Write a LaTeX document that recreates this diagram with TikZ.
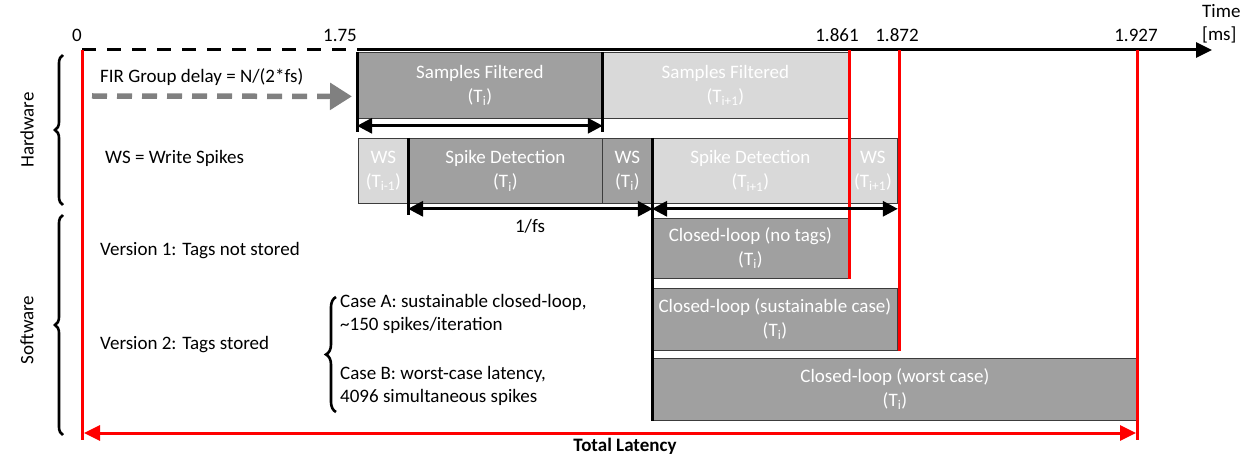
\documentclass[tikz,border=0pt]{standalone}
\usepackage{fontspec}
\setmainfont{Carlito}
\usetikzlibrary{arrows.meta,positioning,calc,decorations.pathreplacing}

\definecolor{darkfill}{RGB}{160,160,160}
\definecolor{lightfill}{RGB}{217,217,217}
\definecolor{boxedge}{RGB}{60,60,60}
\definecolor{delaygray}{RGB}{128,128,128}

\tikzset{
  stage/.style={draw=boxedge, line width=0.8pt, text=white, align=center, inner sep=0pt, anchor=north west, font=\fontsize{19}{24}\selectfont},
  darkstage/.style={stage, fill=darkfill},
  lightstage/.style={stage, fill=lightfill},
  note/.style={font=\fontsize{19}{23}\selectfont, align=left, inner sep=0pt},
  edgemark/.style={line width=3pt},
  span/.style={line width=3pt, {Triangle[length=15pt,width=15pt]}-{Triangle[length=15pt,width=15pt]}},
  redmark/.style={draw=red, line width=3pt},
  bracket/.style={decorate, decoration={brace, amplitude=8pt}, line width=2.6pt},
}

\begin{document}
\begin{tikzpicture}[x=1pt, y=-1pt]
    \useasboundingbox (0,0) rectangle (1244,457);

    % time axis
    \draw[line width=3pt, dash pattern=on 14pt off 11pt] (82,50) -- (357,50);
    \draw[line width=3pt, -{Triangle[length=16pt,width=15pt]}] (357,50) -- (1212,50);
    \node[note] (t0) at (77,35) {0};
    \node[note] (t1) at (340,35) {1.75};
    \node[note] (t2) at (837,35) {1.861};
    \node[note] (t3) at (897,35) {1.872};
    \node[note] (t4) at (1136,35) {1.927};
    \node[note, anchor=west] (unit) at (1202,24) {Time\\{}[ms]};

    % hardware stages
    \node[darkstage, minimum width=245pt, minimum height=66pt] (sf1) at (357,52) {Samples Filtered\\(T\textsubscript{i})};
    \node[lightstage, minimum width=246pt, minimum height=66pt] (sf2) at (602,52) {Samples Filtered\\(T\textsubscript{i+1})};
    \node[lightstage, minimum width=50pt, minimum height=65pt] (ws0) at (358,138) {WS\\(T\textsubscript{i-1})};
    \node[darkstage, minimum width=194pt, minimum height=65pt] (sd1) at (408,138) {Spike Detection\\(T\textsubscript{i})};
    \node[darkstage, minimum width=50pt, minimum height=65pt] (ws1) at (602,138) {WS\\(T\textsubscript{i})};
    \node[lightstage, minimum width=196pt, minimum height=65pt] (sd2) at (652,138) {Spike Detection\\(T\textsubscript{i+1})};
    \node[lightstage, minimum width=49pt, minimum height=65pt] (ws2) at (848,138) {WS\\(T\textsubscript{i+1})};

    % software stages
    \node[darkstage, minimum width=196pt, minimum height=60pt] (cl1) at (652,218) {Closed-loop (no tags)\\(T\textsubscript{i})};
    \node[darkstage, minimum width=245pt, minimum height=62pt] (cl2) at (652,288) {Closed-loop (sustainable case)\\(T\textsubscript{i})};
    \node[darkstage, minimum width=485pt, minimum height=62pt] (cl3) at (652,358) {Closed-loop (worst case)\\(T\textsubscript{i})};

    % latency markers
    \draw[redmark] (82,50) -- (82,440);
    \draw[redmark] (849,50) -- (849,279);
    \draw[redmark] (899,50) -- (899,351);
    \draw[redmark] (1137,50) -- (1137,440);

    % boundaries and periods
    \draw[edgemark] (sf1.north west) -- ++(0,80);
    \draw[edgemark] (sf1.north east) -- ++(0,80);
    \draw[edgemark] (sd1.north west) -- ++(0,77);
    \draw[edgemark] (sd2.north west) -- (cl3.south west);
    \draw[span] ([yshift=-7pt]sf1.south west) -- ([yshift=-7pt]sf1.south east);
    \draw[span] ([yshift=-5pt]sd1.south west) -- ([yshift=-5pt]ws1.south east);
    \draw[span] ([yshift=-5pt]sd2.south west) -- ([yshift=-5pt]ws2.south east);
    \node[note] (period) at (530,226) {1/fs};

    % group delay
    \node[note, anchor=west] (fir) at (100,77) {FIR Group delay = N/(2*fs)};
    \coordinate (delaystart) at (92,96);
    \draw[delaygray, line width=5.5pt, dash pattern=on 15pt off 10pt, -{Triangle[length=22pt,width=26pt]}] (delaystart) -- ([shift={(-5pt,-11pt)}]sf1.west);

    % left side labels
    \node[note, anchor=west] (wsdef) at (105,158) {WS = Write Spikes};
    \node[note, anchor=west] (v1) at (100,251) {Version 1: Tags not stored};
    \node[note, anchor=west] (v2) at (100,345) {Version 2: Tags stored};
    \node[note, anchor=west] (casea) at (340,314) {Case A: sustainable closed-loop,\\\textasciitilde150 spikes/iteration};
    \node[note, anchor=west] (caseb) at (340,386) {Case B: worst-case latency,\\4096 simultaneous spikes};
    \draw[bracket, decoration={brace, amplitude=10pt}] (336,412) -- (336,297);

    \draw[bracket] (63,205) -- (63,55);
    \draw[bracket] (63,435) -- (63,215);
    \node[note, rotate=90] (hw) at (27,130) {Hardware};
    \node[note, rotate=90] (sw) at (27,330) {Software};

    % total latency
    \draw[red, line width=3pt, {Triangle[length=16pt,width=15pt]}-{Triangle[length=16pt,width=15pt]}] (84,433) -- (1136,433);
    \node[note, font=\fontsize{19}{23}\selectfont\bfseries] (total) at (625,446) {Total Latency};
\end{tikzpicture}
\end{document}
